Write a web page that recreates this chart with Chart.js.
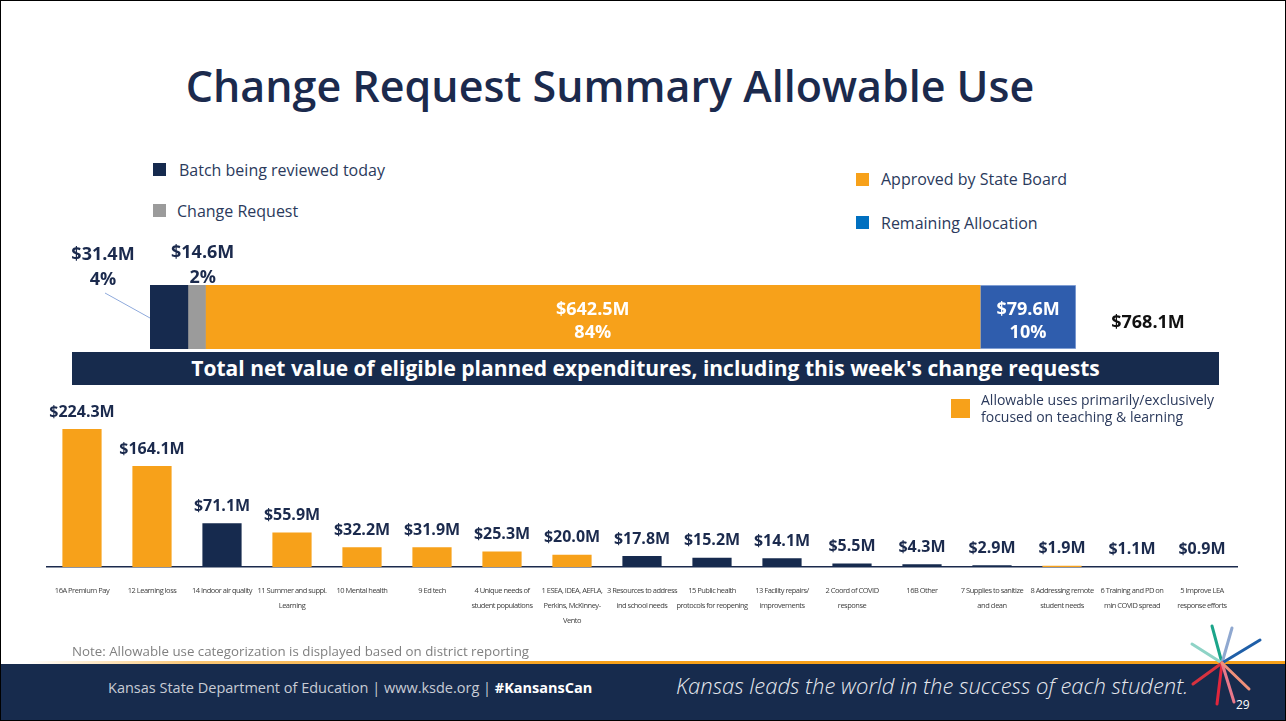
<!DOCTYPE html>
<html>
<head>
<meta charset="utf-8">
<script src="https://cdn.jsdelivr.net/npm/chart.js@4.4.0/dist/chart.umd.min.js"></script>
<style>
  html, body { margin: 0; padding: 0; background: #fff; }
  body { width: 1286px; height: 721px; position: relative; overflow: hidden; font-family: 'Open Sans', sans-serif; }
  .frame { position: absolute; left: 0; top: 0; width: 1286px; height: 721px; box-sizing: border-box; border: 1px solid #000; pointer-events: none; z-index: 20; }
  h1 { position: absolute; left: 0; top: 58px; width: 1220px; margin: 0; text-align: center; font-size: 43px; font-weight: 600; line-height: 56px; color: #1B2A4D; }
  .sw { position: absolute; width: 13px; height: 13px; }
  .lg { position: absolute; font-size: 16px; line-height: 20px; color: #2B3A5C; white-space: nowrap; }
  canvas { position: absolute; left: 0; }
  #topChart { top: 230px; }
  #useChart { top: 390px; }
  .banner { position: absolute; left: 72px; top: 352px; width: 1147px; height: 33px; background: #172B4D; color: #fff; font-weight: 700; font-size: 21px; line-height: 33px; text-align: center; z-index: 5; }
  .note { position: absolute; left: 72px; top: 642px; font-size: 13.3px; color: #808080; white-space: nowrap; }
  .stripe { position: absolute; left: 0; top: 661px; width: 1286px; height: 3px; background: linear-gradient(90deg, rgba(200,200,200,0) 2%, rgba(247,161,26,0.6) 15%, #F7A11A 45%, #F7A11A 100%); }
  .footer { position: absolute; left: 0; top: 664px; width: 1286px; height: 57px; background: #172B4D; }
  .ftext { position: absolute; left: 108px; top: 678px; font-size: 14.5px; line-height: 20px; color: #C8CCD5; white-space: nowrap; }
  .ftext b { color: #fff; }
  .slogan { position: absolute; left: 676px; top: 670px; font-size: 22px; line-height: 30px; font-style: italic; font-weight: 300; color: #E6E8EE; white-space: nowrap; }
  .page { position: absolute; left: 1236px; top: 696px; font-size: 12px; color: #fff; }
  svg.star { position: absolute; left: 1170px; top: 620px; }
</style>
</head>
<body>
<div class="frame"></div>
<h1>Change Request Summary Allowable Use</h1>

<div class="sw" style="left:153px;top:163px;background:#162A4E"></div>
<div class="lg" style="left:179px;top:160px">Batch being reviewed today</div>
<div class="sw" style="left:153px;top:204px;background:#9B9B9B"></div>
<div class="lg" style="left:177px;top:201px">Change Request</div>
<div class="sw" style="left:856px;top:173px;background:#F7A11A"></div>
<div class="lg" style="left:881px;top:169px">Approved by State Board</div>
<div class="sw" style="left:856px;top:216px;background:#0070C0"></div>
<div class="lg" style="left:881px;top:213px">Remaining Allocation</div>

<canvas id="topChart" width="1286" height="125"></canvas>
<div class="banner">Total net value of eligible planned expenditures, including this week's change requests</div>

<canvas id="useChart" width="1286" height="262"></canvas>
<div class="sw" style="left:951px;top:399px;width:19px;height:19px;background:#F7A11A"></div>
<div class="lg" style="left:981px;top:391px;font-size:14px;line-height:17px">Allowable uses primarily/exclusively<br>focused on teaching &amp; learning</div>

<div class="note">Note: Allowable use categorization is displayed based on district reporting</div>
<div class="stripe"></div>
<div class="footer"></div>
<div class="ftext">Kansas State Department of Education | www.ksde.org | <b>#KansansCan</b></div>
<div class="slogan">Kansas leads the world in the success of each student.</div>
<div class="page">29</div>
<svg class="star" width="116" height="101">
  <g stroke-width="3" stroke-linecap="round">
    <line x1="52" y1="43" x2="42" y2="6" stroke="#1BA58A"/>
    <line x1="52" y1="43" x2="62" y2="8" stroke="#8FA8D0"/>
    <line x1="52" y1="43" x2="90" y2="20" stroke="#1F5FA8"/>
    <line x1="52" y1="43" x2="22" y2="24" stroke="#8ED3C6"/>
    <line x1="52" y1="43" x2="23" y2="64" stroke="#D8323F"/>
    <line x1="52" y1="43" x2="47" y2="84" stroke="#E0263C"/>
    <line x1="52" y1="43" x2="64" y2="82" stroke="#E8788A"/>
    <line x1="52" y1="43" x2="79" y2="69" stroke="#F0907A"/>
  </g>
</svg>

<script>
// top summary bar
const summaryLabels = ['Batch being reviewed today', 'Change Request', 'Approved by State Board', 'Remaining Allocation'];
const summaryValues = [31.4, 14.6, 642.5, 79.6];

// allowable use breakdown
const useCategories = [
    '16A Premium Pay',
    '12 Learning loss',
    '14 Indoor air quality',
    ['11 Summer and suppl.', 'Learning'],
    '10 Mental health',
    '9 Ed tech',
    ['4 Unique needs of', 'student populations'],
    ['1 ESEA, IDEA, AEFLA,', 'Perkins, McKinney-', 'Vento'],
    ['3 Resources to address', 'ind school needs'],
    ['15 Public health', 'protocols for reopening'],
    ['13 Facility repairs/', 'improvements'],
    ['2 Coord of COVID', 'response'],
    '16B Other',
    ['7 Supplies to sanitize', 'and clean'],
    ['8 Addressing remote', 'student needs'],
    ['6 Training and PD on', 'min COVID spread'],
    ['5 Improve LEA', 'response efforts']
];
const useValues = [224.3, 164.1, 71.1, 55.9, 32.2, 31.9, 25.3, 20.0, 17.8, 15.2, 14.1, 5.5, 4.3, 2.9, 1.9, 1.1, 0.9];
const teachingFocus = [true, true, false, true, true, true, true, true, false, false, false, false, false, false, true, false, false];

const NAVY = '#162A4E';
const ORANGE = '#F7A11A';
const summaryColors = [NAVY, '#9B9B9B', ORANGE, '#2F5DAD'];

Chart.defaults.font.family = "'Open Sans', sans-serif";

const money = v => '$' + v.toFixed(1) + 'M';

const summaryLabelPlugin = {
    id: 'summaryLabels',
    afterDatasetsDraw(chart) {
        const ctx = chart.ctx;
        const total = summaryValues.reduce((a, b) => a + b, 0);
        ctx.save();
        ctx.textAlign = 'center';
        ctx.textBaseline = 'middle';
        ctx.font = "700 18px 'Open Sans'";

        chart.data.datasets.forEach((ds, i) => {
            const bar = chart.getDatasetMeta(i).data[0];
            const v = ds.data[0];
            const pct = Math.round(v / total * 100) + '%';
            const left = Math.min(bar.x, bar.base);
            const right = Math.max(bar.x, bar.base);
            const top = bar.y - bar.height / 2;
            const mid = bar.y;

            if (i === 0) {
                ctx.fillStyle = '#1B2A4D';
                ctx.fillText(money(v), left - 47, top - 30);
                ctx.fillText(pct, left - 47, top - 5);
                ctx.strokeStyle = '#8FAADC';
                ctx.lineWidth = 1;
                ctx.beginPath();
                ctx.moveTo(left - 45, top + 8);
                ctx.lineTo(left, mid + 1);
                ctx.stroke();
            } else if (i === 1) {
                ctx.fillStyle = '#1B2A4D';
                ctx.fillText(money(v), (left + right) / 2 + 6, top - 32);
                ctx.fillText(pct, (left + right) / 2 + 6, top - 7);
            } else {
                ctx.fillStyle = '#fff';
                ctx.fillText(money(v), (left + right) / 2, mid - 7);
                ctx.fillText(pct, (left + right) / 2, mid + 16);
            }
        });

        // grand total to the right of the bar
        ctx.fillStyle = '#111';
        ctx.fillText(money(total), chart.chartArea.right + 72, chart.getDatasetMeta(0).data[0].y + 6);
        ctx.restore();
    }
};

new Chart(document.getElementById('topChart'), {
    type: 'bar',
    data: {
        labels: [''],
        datasets: summaryValues.map((v, i) => ({
            label: summaryLabels[i],
            data: [v],
            backgroundColor: summaryColors[i],
            borderColor: i === 3 ? '#9DB5E0' : summaryColors[i],
            borderWidth: i === 3 ? 1 : 0,
            borderSkipped: false,
            barPercentage: 1,
            categoryPercentage: 1
        }))
    },
    options: {
        indexAxis: 'y',
        responsive: false,
        animation: false,
        layout: { padding: { left: 150, right: 210, top: 55, bottom: 6 } },
        plugins: { legend: { display: false }, tooltip: { enabled: false } },
        scales: {
            x: { display: false, stacked: true, min: 0, max: summaryValues.reduce((a, b) => a + b, 0) },
            y: { display: false, stacked: true }
        }
    },
    plugins: [summaryLabelPlugin]
});

// squeezed category text, then value labels on top of the bars
const useLabelPlugin = {
    id: 'useLabels',
    beforeDraw(chart) {
        chart.ctx.letterSpacing = '-0.5px';
    },
    beforeDatasetsDraw(chart) {
        chart.ctx.letterSpacing = '0px';
    },
    afterDatasetsDraw(chart) {
        const ctx = chart.ctx;
        ctx.save();
        ctx.textAlign = 'center';
        ctx.textBaseline = 'middle';
        ctx.font = "700 16px 'Open Sans'";
        ctx.fillStyle = '#1B2A4D';
        chart.getDatasetMeta(0).data.forEach((bar, i) => {
            ctx.fillText(money(useValues[i]), bar.x, bar.y - 17);
        });
        ctx.restore();
    }
};

new Chart(document.getElementById('useChart'), {
    type: 'bar',
    data: {
        labels: useCategories,
        datasets: [{
            label: 'Allowable uses primarily/exclusively focused on teaching & learning',
            data: useValues,
            backgroundColor: teachingFocus.map(t => t ? ORANGE : NAVY),
            barPercentage: 0.8,
            categoryPercentage: 0.7
        }]
    },
    options: {
        responsive: false,
        animation: false,
        layout: { padding: { left: 47, right: 49, top: 39, bottom: 8 } },
        plugins: { legend: { display: false }, tooltip: { enabled: false } },
        scales: {
            x: {
                grid: { display: false, drawTicks: false },
                border: { display: true, color: '#1B2A4D', width: 1.5 },
                ticks: {
                    autoSkip: false,
                    maxRotation: 0,
                    minRotation: 0,
                    padding: 16,
                    color: '#404040',
                    font: { size: 7.5, lineHeight: 2 }
                }
            },
            y: { display: false, min: 0, max: 224.3 }
        }
    },
    plugins: [useLabelPlugin]
});
</script>
</body>
</html>
